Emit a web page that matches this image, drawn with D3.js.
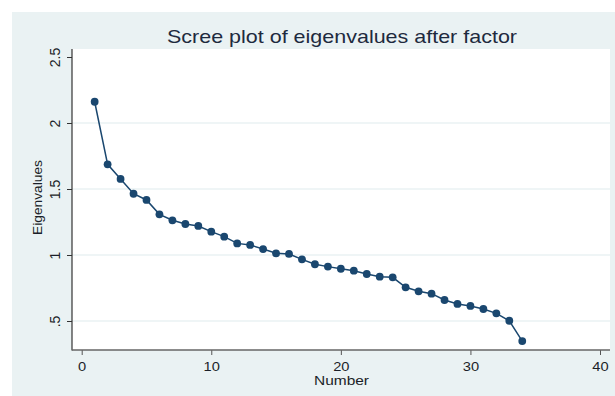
<!DOCTYPE html>
<html>
<head>
<meta charset="utf-8">
<script src="https://cdn.jsdelivr.net/npm/d3@7"></script>
<style>
html,body{margin:0;padding:0;background:#fff;}
svg{display:block;font-family:"Liberation Sans",Arial,sans-serif;}
</style>
</head>
<body>
<svg id="chart" width="615" height="396"></svg>
<script>
const numbers = [1,2,3,4,5,6,7,8,9,10,11,12,13,14,15,16,17,18,19,20,21,22,23,24,25,26,27,28,29,30,31,32,33,34];
const eigenvalues = [2.161,1.687,1.576,1.464,1.417,1.308,1.263,1.235,1.220,1.177,1.139,1.088,1.076,1.045,1.013,1.008,0.967,0.930,0.912,0.896,0.881,0.856,0.836,0.831,0.755,0.725,0.707,0.659,0.629,0.614,0.591,0.558,0.502,0.348];
const xTicks = [0,10,20,30,40];
const yTicks = [0.5,1,1.5,2,2.5];
const yTickLabels = [".5","1","1.5","2","2.5"];
const yGrid = [0.5,1,1.5,2];
const titleText = "Scree plot of eigenvalues after factor";
const xTitle = "Number";
const yTitle = "Eigenvalues";

const svg = d3.select("#chart");
const navy = "#1a476f";
const bg = "#eaf2f3";
const textCol = "#1b1f28";

// plot region
const pLeft = 72, pRight = 610, pTop = 49, pBottom = 350;

const x = d3.scaleLinear().domain([0,40]).range([81.7,600]);
const y = d3.scaleLinear().domain([0.5,2.5]).range([321,57]);

// outer background
svg.append("rect").attr("x",12).attr("y",12).attr("width",603).attr("height",384).attr("fill",bg);
// plot region
svg.append("rect").attr("x",pLeft).attr("y",pTop).attr("width",pRight-pLeft).attr("height",pBottom-pTop).attr("fill","#fff");

// gridlines
svg.append("g").selectAll("line").data(yGrid).join("line")
  .attr("x1",pLeft).attr("x2",pRight)
  .attr("y1",d=>y(d)).attr("y2",d=>y(d))
  .attr("stroke",bg).attr("stroke-width",1.6);

// y axis
const yAxis = d3.axisLeft(y).tickValues(yTicks).tickSize(5).tickFormat((d,i)=>yTickLabels[i]);
const gy = svg.append("g").attr("transform",`translate(${pLeft},0)`).call(yAxis);
gy.select(".domain").remove();
gy.selectAll(".tick line").attr("stroke","#333").attr("stroke-width",1);
gy.selectAll(".tick text")
  .attr("x",0).attr("dy",null)
  .attr("transform","translate(-12,0) rotate(-90) scale(1,1.08)")
  .attr("text-anchor","middle")
  .attr("font-size",14)
  .attr("font-family","Liberation Sans, Arial, sans-serif")
  .attr("fill",textCol);

// x axis
const xAxis = d3.axisBottom(x).tickValues(xTicks).tickSize(5).tickFormat(d3.format("d"));
const gx = svg.append("g").attr("transform",`translate(0,${pBottom})`).call(xAxis);
gx.select(".domain").remove();
gx.selectAll(".tick line").attr("stroke","#555").attr("stroke-width",1);
gx.selectAll(".tick text")
  .attr("y",0).attr("dy",null)
  .attr("transform","translate(0,20.5) scale(1.13,1)")
  .attr("font-size",13)
  .attr("font-family","Liberation Sans, Arial, sans-serif")
  .attr("fill",textCol);

// axis lines
svg.append("line").attr("x1",pLeft).attr("x2",pLeft).attr("y1",pTop).attr("y2",pBottom+0.5)
  .attr("stroke","#333").attr("stroke-width",1.2);
svg.append("line").attr("x1",pLeft).attr("x2",pRight).attr("y1",pBottom).attr("y2",pBottom)
  .attr("stroke","#666").attr("stroke-width",1.4);

// line
const data = numbers.map((n,i)=>({n, v: eigenvalues[i]}));
svg.append("path").datum(data)
  .attr("d", d3.line().x(d=>x(d.n)).y(d=>y(d.v)))
  .attr("fill","none").attr("stroke",navy).attr("stroke-width",1.5);
svg.append("g").selectAll("circle").data(data).join("circle")
  .attr("cx",d=>x(d.n)).attr("cy",d=>y(d.v)).attr("r",3.9).attr("fill",navy);

// titles
svg.append("text").attr("x",342).attr("y",42.5).attr("text-anchor","middle")
  .attr("font-size",19).attr("fill","#1e2a3e")
  .attr("textLength",350).attr("lengthAdjust","spacingAndGlyphs")
  .text(titleText);
svg.append("text").attr("x",341.5).attr("y",384.5).attr("text-anchor","middle")
  .attr("font-size",12.5).attr("fill",textCol)
  .attr("textLength",55).attr("lengthAdjust","spacingAndGlyphs")
  .text(xTitle);
svg.append("text").attr("transform","translate(42,197.5) rotate(-90)").attr("text-anchor","middle")
  .attr("font-size",13).attr("fill",textCol)
  .attr("textLength",75).attr("lengthAdjust","spacingAndGlyphs")
  .text(yTitle);
</script>
</body>
</html>
